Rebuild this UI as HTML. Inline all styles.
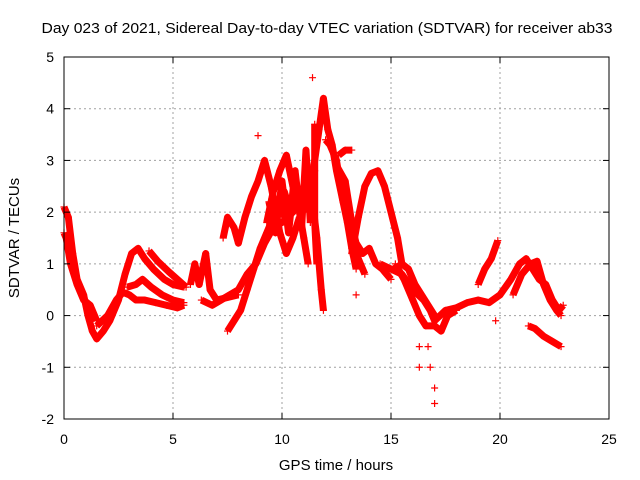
<!DOCTYPE html>
<html><head><meta charset="utf-8"><style>
body{margin:0;background:#fff}
svg{display:block;font-family:"Liberation Sans",sans-serif}
</style></head><body>
<svg id="chart" width="640" height="480" viewBox="0 0 640 480">
<rect width="640" height="480" fill="#fff"/>
<text x="327" y="33" font-size="15" text-anchor="middle" textLength="571" lengthAdjust="spacingAndGlyphs">Day 023 of 2021, Sidereal Day-to-day VTEC variation (SDTVAR) for receiver ab33</text>
<g id="grid"></g>
<g id="series"></g>
<rect x="64" y="57" width="545" height="362" fill="none" stroke="#000" stroke-width="1"/>
<g id="ticks" font-size="14"></g>
<text x="336" y="470" font-size="15" text-anchor="middle">GPS time / hours</text>
<text transform="translate(19,238) rotate(-90)" font-size="15" text-anchor="middle">SDTVAR / TECUs</text>
</svg>
<script>
const xTicks=[0,5,10,15,20,25];
const yTicks=[-2,-1,0,1,2,3,4,5];
const track1=[[0,2.1],[0.2,1.9],[0.4,1.2],[0.6,0.7],[0.9,0.4],[1.1,0],[1.3,-0.3],[1.5,-0.45],[1.8,-0.3],[2.1,-0.1],[2.5,0.3],[2.8,0.8],[3.1,1.2],[3.4,1.3],[3.7,1.1],[4.1,0.9],[4.6,0.7],[5.0,0.6],[5.5,0.55]];
const track2=[[0,1.6],[0.1,1.5],[0.3,1.0],[0.6,0.6],[0.9,0.3],[1.2,0.2],[1.5,-0.1]];
const track3=[[1.5,-0.2],[2.0,0],[2.4,0.3],[2.7,0.45],[3.0,0.4],[3.3,0.3],[3.7,0.3],[4.2,0.25],[4.7,0.2],[5.2,0.15],[5.5,0.2]];
const track4=[[2.9,0.55],[3.3,0.6],[3.6,0.7],[4.0,0.55],[4.5,0.4],[5.0,0.3],[5.5,0.25]];
const track5=[[3.9,1.25],[4.3,1.05],[4.8,0.85],[5.2,0.7],[5.6,0.55]];
const track6=[[5.8,0.6],[6.0,1.0],[6.2,0.6],[6.5,1.2],[6.7,0.5],[7.0,0.3],[7.5,0.35],[8.0,0.4]];
const track7=[[6.3,0.3],[6.8,0.2],[7.2,0.3],[7.6,0.4],[8.0,0.5],[8.4,0.8],[8.8,1.0],[9.2,1.4],[9.6,1.7],[10,1.8],[10.5,2.0],[11,2.5],[11.3,2.8]];
const track8=[[7.5,-0.3],[7.8,-0.1],[8.1,0.1],[8.4,0.5],[8.7,0.9],[9.0,1.3],[9.3,1.6],[9.7,2.0],[10.1,2.4],[10.4,2.0]];
const track9=[[7.3,1.5],[7.5,1.9],[7.8,1.7],[8.0,1.4],[8.3,1.9],[8.6,2.3],[8.9,2.6],[9.2,3.0],[9.5,2.5],[9.9,1.6],[10.2,1.2],[10.5,1.5],[10.8,1.9]];
const track10=[[9.3,1.8],[9.6,2.4],[9.9,2.8],[10.2,3.1],[10.5,2.5],[10.8,2.0],[11.0,1.5],[11.2,1.0]];
const track11=[[11.3,2.5],[11.5,3.0],[11.7,3.6],[11.9,4.2],[12.1,3.6],[12.3,3.3],[12.5,2.8],[12.8,2.2],[13.1,1.9],[13.4,1.4],[13.7,1.2],[14.0,1.3],[14.3,1.0],[14.6,0.9],[15,0.7]];
const track12=[[11.0,2.2],[11.2,2.8],[11.4,2.2],[11.6,1.5],[11.7,1.0],[11.8,0.5],[11.9,0.1]];
const track13=[[12.0,3.4],[12.2,3.3],[12.5,3.0],[12.8,2.2],[13.0,1.8],[13.2,1.3],[13.4,0.9]];
const track14=[[12.6,3.1],[12.9,3.2],[13.2,3.2]];
const track15=[[13.2,1.2],[13.5,1.9],[13.8,2.5],[14.1,2.75],[14.4,2.8],[14.7,2.5],[15.0,2.0],[15.3,1.5],[15.5,1.0],[15.8,0.9],[16.1,0.6],[16.4,0.4],[16.7,0.2],[17,0]];
const track16=[[14.5,1.0],[15,0.9],[15.5,0.8],[16.0,0.5],[16.5,0.3],[16.8,0.1],[17,-0.1],[17.5,0.1],[18,0.15],[18.5,0.25],[19,0.3],[19.5,0.25],[20,0.4],[20.5,0.7],[20.9,1.0],[21.2,1.1],[21.5,0.9],[21.8,0.7],[22.1,0.6],[22.4,0.3],[22.7,0.1],[22.9,0.2]];
const track17=[[15.2,1.0],[15.6,0.7],[16,0.3],[16.3,0.0],[16.6,-0.2],[17.0,-0.2],[17.3,-0.3],[17.6,0.0],[18,0.1]];
const track18=[[19.0,0.6],[19.3,0.9],[19.6,1.1],[19.9,1.45]];
const track19=[[20.6,0.4],[21.0,0.8],[21.4,1.0],[21.7,1.05],[22.0,0.6],[22.3,0.3],[22.6,0.1],[22.8,0.0]];
const track20=[[21.3,-0.2],[21.6,-0.25],[22.0,-0.4],[22.4,-0.5],[22.8,-0.6]];
const track21=[[9.4,2.2],[9.7,1.6],[10.0,2.6],[10.3,1.6],[10.6,2.8],[10.9,1.7],[11.1,3.2],[11.3,1.8]];
const track22=[[9.6,2.0],[9.9,2.2],[10.2,1.8],[10.5,2.2],[10.8,2.4],[11.0,2.0]];
const track23=[[11.5,3.7],[11.5,2.8],[11.5,1.8],[11.6,1.0]];
const track24=[[12.5,2.9],[12.9,2.6],[13.2,1.8],[13.5,1.1],[13.8,0.8]];
const scatter=[[8.9,3.48],[11.4,4.6],[16.3,-0.6],[16.3,-1.0],[16.7,-0.6],[16.8,-1.0],[17.0,-1.4],[17.0,-1.7],[13.4,0.4],[19.8,-0.1]];
const tracks=[track1,track2,track3,track4,track5,track6,track7,track8,track9,track10,track11,track12,track13,track14,track15,track16,track17,track18,track19,track20,track21,track22,track23,track24];

const X0=64,X1=609,Y0=419,Y1=57;
const xs=t=>X0+(t-0)/(25-0)*(X1-X0);
const ys=v=>Y0-(v+2)/(5+2)*(Y0-Y1);
const NS="http://www.w3.org/2000/svg";
const grid=document.getElementById('grid'),ticks=document.getElementById('ticks'),ser=document.getElementById('series');
function mk(tag,attrs,parent){const e=document.createElementNS(NS,tag);for(const k in attrs)e.setAttribute(k,attrs[k]);parent.appendChild(e);return e;}
xTicks.forEach(t=>{
  const x=xs(t);
  if(t>0&&t<25){const g=mk('line',{x1:x,y1:Y0,x2:x,y2:Y1,stroke:'#a0a0a0','stroke-dasharray':'2,3'},grid);
  
  }
  mk('line',{x1:x,y1:Y0,x2:x,y2:Y0-6,stroke:'#000'},ticks);
  mk('line',{x1:x,y1:Y1,x2:x,y2:Y1+6,stroke:'#000'},ticks);
  const l=mk('text',{x:x,y:Y0+25,'text-anchor':'middle'},ticks);l.textContent=t;
  
  
});
yTicks.forEach(v=>{
  const y=ys(v);
  if(v>-2&&v<5){const g=mk('line',{x1:X0,y1:y,x2:X1,y2:y,stroke:'#a0a0a0','stroke-dasharray':'2,3'},grid);
  
  }
  mk('line',{x1:X0,y1:y,x2:X0+6,y2:y,stroke:'#000'},ticks);
  mk('line',{x1:X1,y1:y,x2:X1-6,y2:y,stroke:'#000'},ticks);
  const l=mk('text',{x:X0-10,y:y+5,'text-anchor':'end'},ticks);l.textContent=v;
  
  
});
function plus(t,v){
  const x=xs(t),y=ys(v);
  const p=mk('path',{d:`M${x-3.5},${y}h7M${x},${y-3.5}v7`,stroke:'#f00','stroke-width':1.2,fill:'none'},ser);
  
  
}
tracks.forEach(tr=>{
  const pl=mk('polyline',{points:tr.map(p=>xs(p[0])+','+ys(p[1])).join(' '),stroke:'#f00','stroke-width':7,fill:'none','stroke-linejoin':'round'},ser);
  
  
  tr.forEach(p=>plus(p[0],p[1]));
});
scatter.forEach(p=>plus(p[0],p[1]));
</script>
</body></html>
